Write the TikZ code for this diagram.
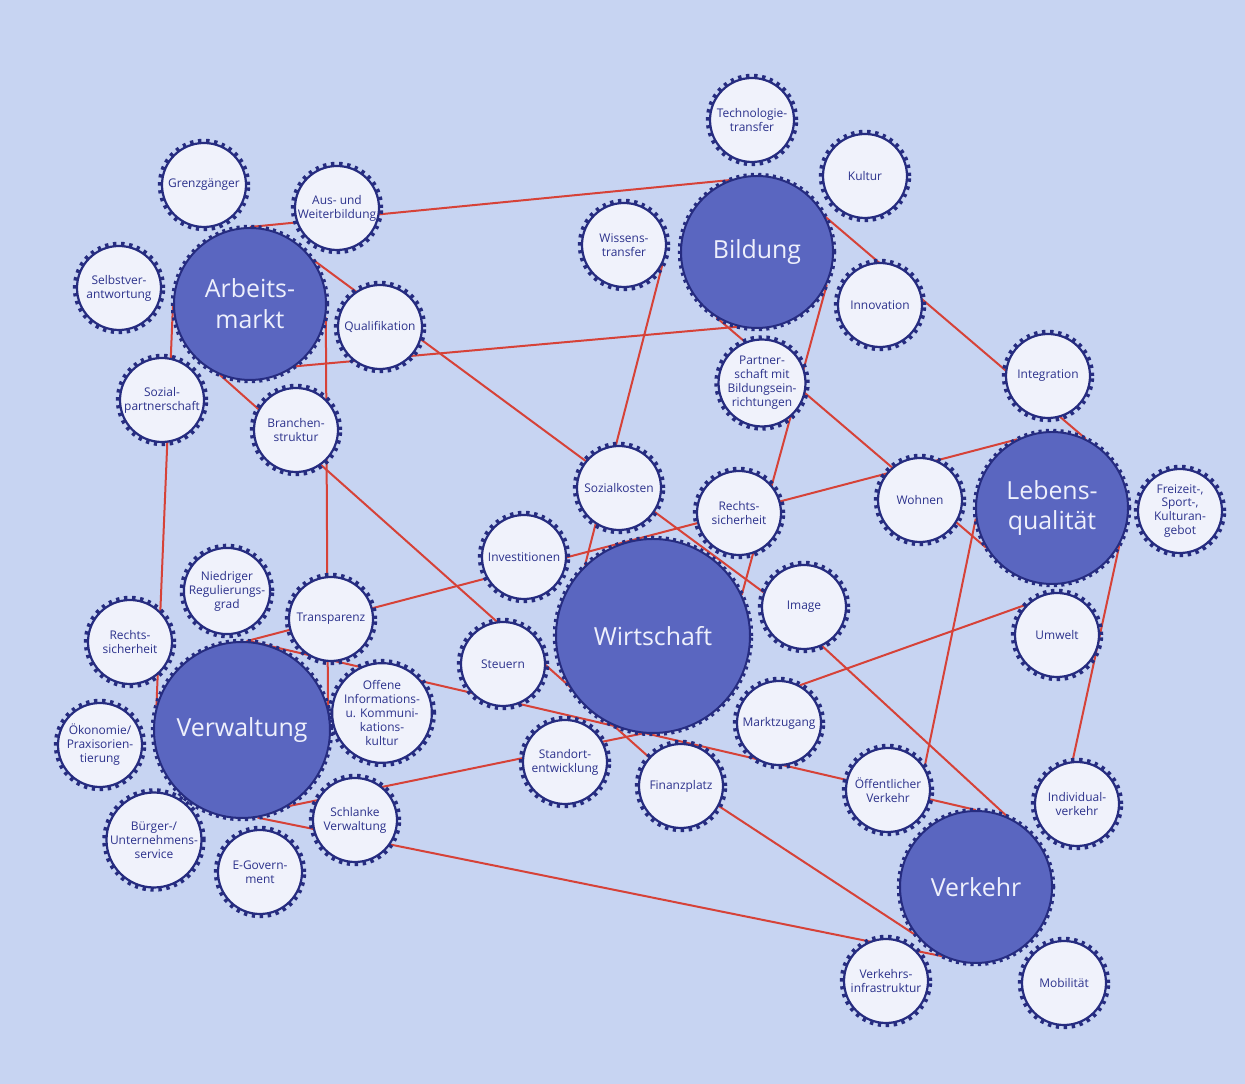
\documentclass[tikz,border=0pt]{standalone}
\usepackage{fontspec}
\setmainfont{Open Sans}
\definecolor{paper}{RGB}{199,212,242}
\definecolor{rim}{RGB}{38,44,128}
\definecolor{hubfill}{RGB}{90,102,192}
\definecolor{hubtext}{RGB}{238,240,252}
\definecolor{leaffill}{RGB}{240,242,251}
\definecolor{leaftext}{RGB}{44,50,140}
\definecolor{tiered}{RGB}{214,66,56}
\pgfdeclarelayer{paperlayer}
\pgfdeclarelayer{tielayer}
\pgfsetlayers{paperlayer,tielayer,main}
\begin{document}
\begin{tikzpicture}[line join=bevel,
  hub/.style={circle,inner sep=0pt,align=center,minimum size=152bp,fill=hubfill,draw=rim,line width=2bp,
    text=hubtext,font=\fontsize{25}{31}\selectfont,
    preaction={draw=rim,line width=6.5bp,dash pattern=on 3bp off 4.2bp}},
  leaf/.style={circle,inner sep=0pt,align=center,minimum size=84bp,fill=leaffill,draw=rim,line width=2.2bp,
    text=leaftext,font=\fontsize{12}{14}\selectfont,
    preaction={draw=rim,line width=8.5bp,dash pattern=on 3.2bp off 4.4bp}},
  tie/.style={draw=tiered,line width=2bp}]
%%
\useasboundingbox (0bp,0bp) rectangle (1245bp,1084bp);
\begin{pgfonlayer}{paperlayer}
  \fill [paper] (0bp,0bp) rectangle (1245bp,1084bp);
\end{pgfonlayer}
%% hubs
\node (arbeit) at (250bp,780bp) [hub] {Arbeits-\\markt};
  \node (bildung) at (757bp,832bp) [hub] {Bildung};
  \node (leben) at (1052bp,576bp) [hub] {Lebens-\\qualität};
  \node (wirtschaft) at (653bp,448bp) [hub,minimum size=194bp] {Wirtschaft};
  \node (verwaltung) at (242bp,354bp) [hub,minimum size=176bp] {Verwaltung};
  \node (verkehr) at (976bp,197bp) [hub] {Verkehr};
%% leaves
\node (grenz) at (204bp,899bp) [leaf] {Grenzgänger};
  \node (ausweiter) at (337bp,876bp) [leaf] {Aus- und\\Weiterbildung};
  \node (selbst) at (119bp,796bp) [leaf] {Selbstver-\\antwortung};
  \node (quali) at (380bp,757bp) [leaf] {Qualifikation};
  \node (sozialp) at (162bp,684bp) [leaf] {Sozial-\\partnerschaft};
  \node (branchen) at (296bp,654bp) [leaf] {Branchen-\\struktur};
  \node (techno) at (752bp,964bp) [leaf] {Technologie-\\transfer};
  \node (kultur) at (865bp,908bp) [leaf] {Kultur};
  \node (wissen) at (624bp,839bp) [leaf] {Wissens-\\transfer};
  \node (innov) at (880bp,779bp) [leaf] {Innovation};
  \node (partner) at (762bp,701bp) [leaf] {Partner-\\schaft mit\\Bildungsein-\\richtungen};
  \node (integr) at (1048bp,708bp) [leaf] {Integration};
  \node (wohnen) at (920bp,584bp) [leaf] {Wohnen};
  \node (freizeit) at (1180bp,573bp) [leaf] {Freizeit-,\\Sport-,\\Kulturan-\\gebot};
  \node (umwelt) at (1057bp,449bp) [leaf] {Umwelt};
  \node (rechtsl) at (130bp,442bp) [leaf] {Rechts-\\sicherheit};
  \node (niedrig) at (227bp,493bp) [leaf] {Niedriger\\Regulierungs-\\grad};
  \node (transp) at (331bp,465bp) [leaf] {Transparenz};
  \node (oekon) at (100bp,339bp) [leaf] {Ökonomie/\\Praxisorien-\\tierung};
  \node (offen) at (382bp,371bp) [leaf] {Offene\\Informations-\\u. Kommuni-\\kations-\\kultur};
  \node (schlank) at (355bp,264bp) [leaf] {Schlanke\\Verwaltung};
  \node (buerger) at (154bp,244bp) [leaf] {Bürger-/\\Unternehmens-\\service};
  \node (egov) at (260bp,212bp) [leaf] {E-Govern-\\ment};
  \node (sozialk) at (619bp,596bp) [leaf] {Sozialkosten};
  \node (rechtsr) at (739bp,571bp) [leaf] {Rechts-\\sicherheit};
  \node (invest) at (524bp,527bp) [leaf] {Investitionen};
  \node (image) at (804bp,477bp) [leaf] {Image};
  \node (steuern) at (503bp,420bp) [leaf] {Steuern};
  \node (markt) at (779bp,361bp) [leaf] {Marktzugang};
  \node (standort) at (565bp,322bp) [leaf] {Standort-\\entwicklung};
  \node (finanz) at (681bp,298bp) [leaf] {Finanzplatz};
  \node (oeffent) at (888bp,294bp) [leaf] {Öffentlicher\\Verkehr};
  \node (individ) at (1077bp,280bp) [leaf] {Individual-\\verkehr};
  \node (vinfra) at (886bp,103bp) [leaf] {Verkehrs-\\infrastruktur};
  \node (mobil) at (1064bp,101bp) [leaf] {Mobilität};
%% ties
\begin{pgfonlayer}{tielayer}
  \draw [tie] (arbeit.90) -- (bildung.111);
  \draw [tie] (arbeit.-54) -- (bildung.-104);
  \draw [tie] (arbeit.35) -- (image.160);
  \draw [tie] (arbeit.-10) -- (verwaltung.15);
  \draw [tie] (arbeit.180) -- (verwaltung.164);
  \draw [tie] (arbeit.-113) -- (finanz.138);
  \draw [tie] (bildung.-122) -- (leben.211);
  \draw [tie] (bildung.-25) -- (wirtschaft.25);
  \draw [tie] (bildung.27) -- (leben.64);
  \draw [tie] (wissen.-27) -- (wirtschaft.134);
  \draw [tie] (verwaltung.87) -- (leben.117);
  \draw [tie] (verwaltung.85) -- (verkehr.90);
  \draw [tie] (verwaltung.-59) -- (wirtschaft.-96);
  \draw [tie] (verwaltung.-80) -- (verkehr.-116);
  \draw [tie] (image.-65) -- (verkehr.66);
  \draw [tie] (leben.188) -- (oeffent.32);
  \draw [tie] (leben.-29) -- (individ.96);
  \draw [tie] (markt.61) -- (umwelt.135);
  \draw [tie] (finanz.-28) -- (verkehr.-141);
\end{pgfonlayer}
%
\end{tikzpicture}
\end{document}
